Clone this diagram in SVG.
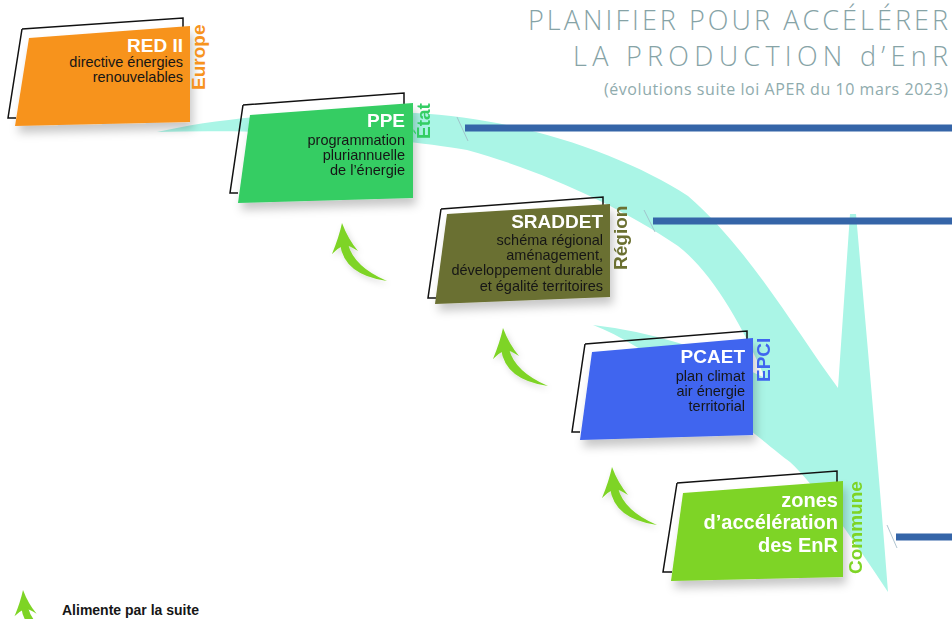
<svg xmlns="http://www.w3.org/2000/svg" xmlns:xlink="http://www.w3.org/1999/xlink" width="952" height="619" viewBox="0 0 952 619">
  <defs>
    <filter id="sh" x="-20%" y="-20%" width="150%" height="160%">
      <feDropShadow dx="3" dy="7" stdDeviation="5" flood-color="#000" flood-opacity="0.22"/>
    </filter>
    <filter id="shs" x="-30%" y="-30%" width="160%" height="160%">
      <feDropShadow dx="2" dy="3" stdDeviation="3" flood-color="#000" flood-opacity="0.15"/>
    </filter>
    <g id="feed">
      <path d="M0,0 Q6,16 16,28 Q7,22 2,22 Q-4,25 -10,31 Q-3,14 0,0 Z"/>
      <path d="M-2,21 Q2,52 45,58 Q12,44 6,21 Z"/>
    </g>
  </defs>
  <style>
    .title { font-family: "Open Sans", "Liberation Sans", sans-serif; font-weight: 300; fill: #86a3a6; font-size: 27px; text-anchor: end; }
    .sub { font-family: "Open Sans", "Liberation Sans", sans-serif; font-weight: 400; fill: #8fabad; font-size: 16px; text-anchor: end; }
    .outline { fill: none; stroke: #111; stroke-width: 1.5; stroke-linejoin: miter; }
    .head { font-family: "Liberation Sans", Arial, sans-serif; font-weight: bold; fill: #fff; font-size: 19px; text-anchor: end; }
    .body { font-family: "Liberation Sans", Arial, sans-serif; fill: #161616; font-size: 14.5px; text-anchor: end; }
    .big { font-family: "Liberation Sans", Arial, sans-serif; font-weight: bold; fill: #fff; font-size: 20px; text-anchor: end; }
    .lvl { font-family: "Liberation Sans", Arial, sans-serif; font-weight: bold; font-size: 19px; }
    .bar { stroke: #3565a8; stroke-width: 7; fill: none; }
    .tick { stroke: #9db6c4; stroke-width: 0.8; fill: none; }
    .feed { fill: #7ed425; }
    .legend { font-family: "Liberation Sans", Arial, sans-serif; font-weight: bold; fill: #161616; font-size: 14px; }
  </style>

  <rect width="952" height="619" fill="#ffffff"/>

  <g id="connectors">
    <path id="swoosh" fill="#aaf5e6" d="M157,132 C220,118 300,110 415,113 C520,118 625,155 688,196 C750,250 795,330 838,388 L850,214 L856,214 C866,330 878,460 888,592 C860,550 820,490 790,462 C760,440 660,350 593,325 Q680,335 765,378 C742,325 712,272 678,246 C620,206 540,170 467,150 C420,142 300,128 157,132 Z"/>
    <line class="tick" x1="457" y1="117" x2="468" y2="141"/>
    <line class="tick" x1="644" y1="210" x2="655" y2="232"/>
    <line class="tick" x1="887" y1="525" x2="897" y2="548"/>
    <path class="bar" d="M465,128 H952"/>
    <path class="bar" d="M653,221 H952"/>
    <path class="bar" d="M896,537 H952"/>
    <g class="feed" filter="url(#shs)">
      <use xlink:href="#feed" transform="translate(342,223)"/>
      <use xlink:href="#feed" transform="translate(503,328)"/>
      <use xlink:href="#feed" transform="translate(612,467)"/>
    </g>
  </g>

  <g id="title">
    <text class="title" x="948" y="30" textLength="420" lengthAdjust="spacing">PLANIFIER POUR ACCÉLÉRER</text>
    <text class="title" x="948" y="66" textLength="375" lengthAdjust="spacing">LA PRODUCTION d’EnR</text>
    <text class="sub" x="948" y="95" textLength="344" lengthAdjust="spacing">(évolutions suite loi APER du 10 mars 2023)</text>
  </g>

  <g id="node-red2">
    <path class="outline" d="M22,29 L183,18 L183,100 M16,118 L8,118 L22,29"/>
    <path fill="#f7931e" filter="url(#sh)" d="M29,38 L190,26 L190,122 L15,126 Z"/>
    <text class="head" x="183" y="52">RED II</text>
    <text class="body" x="183" y="67">directive énergies</text>
    <text class="body" x="183" y="82">renouvelables</text>
    <text class="lvl" fill="#f7931e" transform="translate(205,90) rotate(-90)">Europe</text>
  </g>

  <g id="node-ppe">
    <path class="outline" d="M243,105 L404,93 L404,180 M238,193 L230,193 L243,105"/>
    <path fill="#34cd64" filter="url(#sh)" d="M250,115 L413,103 L413,198 L238,203 Z"/>
    <text class="head" x="405" y="127">PPE</text>
    <text class="body" x="405" y="145">programmation</text>
    <text class="body" x="405" y="160">pluriannuelle</text>
    <text class="body" x="405" y="175">de l’énergie</text>
    <text class="lvl" fill="#34cd64" transform="translate(430,139) rotate(-90)">État</text>
  </g>

  <g id="node-sraddet">
    <path class="outline" d="M441,209 L603,197 L603,290 M436,298 L428,298 L441,209"/>
    <path fill="#6b7031" filter="url(#sh)" d="M447,214 L610,204 L610,297 L435,304 Z"/>
    <text class="head" x="603" y="228">SRADDET</text>
    <text class="body" x="603" y="245">schéma régional</text>
    <text class="body" x="603" y="260">aménagement,</text>
    <text class="body" x="603" y="275">développement durable</text>
    <text class="body" x="603" y="291">et égalité territoires</text>
    <text class="lvl" fill="#6b7031" transform="translate(627,270) rotate(-90)">Région</text>
  </g>

  <g id="node-pcaet">
    <path class="outline" d="M585,344 L747,331 L747,420 M580,432 L572,432 L585,344"/>
    <path fill="#3f65ef" filter="url(#sh)" d="M592,352 L753,338 L753,435 L580,440 Z"/>
    <text class="head" x="745" y="363">PCAET</text>
    <text class="body" x="745" y="381">plan climat</text>
    <text class="body" x="745" y="396">air énergie</text>
    <text class="body" x="745" y="411">territorial</text>
    <text class="lvl" fill="#3f65ef" transform="translate(770,382) rotate(-90)">EPCI</text>
  </g>

  <g id="node-zones">
    <path class="outline" d="M677,483 L837,471 L837,560 M672,572 L663,572 L677,483"/>
    <path fill="#7ed425" filter="url(#sh)" d="M683,493 L843,481 L843,577 L671,581 Z"/>
    <text class="big" x="838" y="507">zones</text>
    <text class="big" x="838" y="529">d’accélération</text>
    <text class="big" x="838" y="552">des EnR</text>
    <text class="lvl" fill="#7ed425" transform="translate(862,574) rotate(-90)">Commune</text>
  </g>

  <g id="legend">
    <use xlink:href="#feed" class="feed" transform="translate(23,590) scale(0.85)"/>
    <text class="legend" x="62" y="615">Alimente par la suite</text>
  </g>
</svg>
